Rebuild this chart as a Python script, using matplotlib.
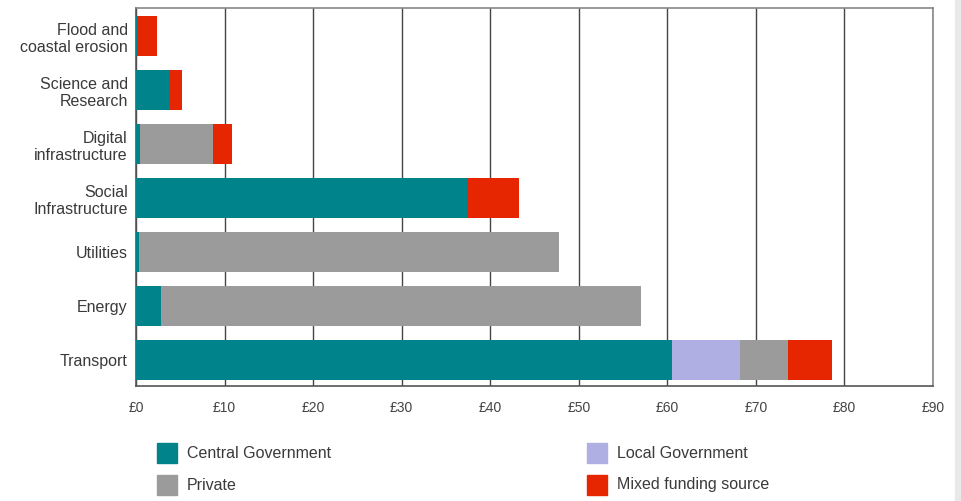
import matplotlib.pyplot as plt
from matplotlib.patches import Rectangle

# ===============================
# Data (£ billion)
# ===============================
categories = ["Transport", "Energy", "Utilities", "Social\nInfrastructure",
              "Digital\ninfrastructure", "Science and\nResearch",
              "Flood and\ncoastal erosion"]
central = [60.5, 2.8, 0.35, 37.4, 0.45, 3.8, 0.1]
local = [7.7, 0, 0, 0, 0, 0, 0]
private = [5.4, 54.2, 47.4, 0, 8.25, 0, 0]
mixed = [5.0, 0, 0, 5.8, 2.1, 1.4, 2.3]
x_ticks = [0, 10, 20, 30, 40, 50, 60, 70, 80, 90]
x_labels = ["£" + str(v) for v in x_ticks]

series = [
    ("Central Government", central, "#00838A"),
    ("Local Government", local, "#AFAFE3"),
    ("Private", private, "#9B9B9B"),
    ("Mixed funding source", mixed, "#E62600"),
]
colors = {name: c for name, _, c in series}

plt.rcParams['font.family'] = ['Liberation Sans', 'DejaVu Sans']

W, H = 961, 501
fig = plt.figure(figsize=(W / 100, H / 100), dpi=100)
ax = fig.add_axes([136 / W, 1 - 386 / H, 797 / W, 378 / H])

# grey strip at right edge
fig.patches.append(Rectangle((955 / W, 0), 6 / W, 1, transform=fig.transFigure,
                             color="#E9E9E9", zorder=0))

# ===============================
# Stacked bars
# ===============================
y = list(range(len(categories)))
left = [0.0] * len(categories)
for name, vals, color in series:
    ax.barh(y, vals, left=left, height=0.74, color=color, zorder=3, label=name)
    left = [a + b for a, b in zip(left, vals)]

ax.set_xlim(0, 90)
ax.set_ylim(-0.48, 6.52)
ax.set_xticks(x_ticks)
ax.set_xticklabels(x_labels, fontsize=10, color="#444444")
ax.set_yticks(y)
ax.set_yticklabels(categories, fontsize=11.5, color="#3a3a3a", linespacing=1.2)
ax.tick_params(axis="y", length=0, pad=6)
ax.tick_params(axis="x", length=0, pad=11)

ax.grid(axis="x", color="#444444", linewidth=1, zorder=1)
for side in ["left", "bottom"]:
    ax.spines[side].set_color("#555555")
for side in ["top", "right"]:
    ax.spines[side].set_color("#888888")
for s in ax.spines.values():
    s.set_linewidth(1.2)

# ===============================
# Legend (two columns, placed by hand)
# ===============================
legend_items = [
    ("Central Government", 157, 443),
    ("Private", 157, 475),
    ("Local Government", 587, 443),
    ("Mixed funding source", 587, 475),
]
for name, px, py in legend_items:
    fig.patches.append(Rectangle((px / W, 1 - (py + 20) / H), 20 / W, 20 / H,
                                 transform=fig.transFigure, color=colors[name]))
    fig.text((px + 30) / W, 1 - (py + 10) / H, name, fontsize=11.5,
             color="#3a3a3a", va="center", ha="left")

plt.savefig("out.png", dpi=100)
